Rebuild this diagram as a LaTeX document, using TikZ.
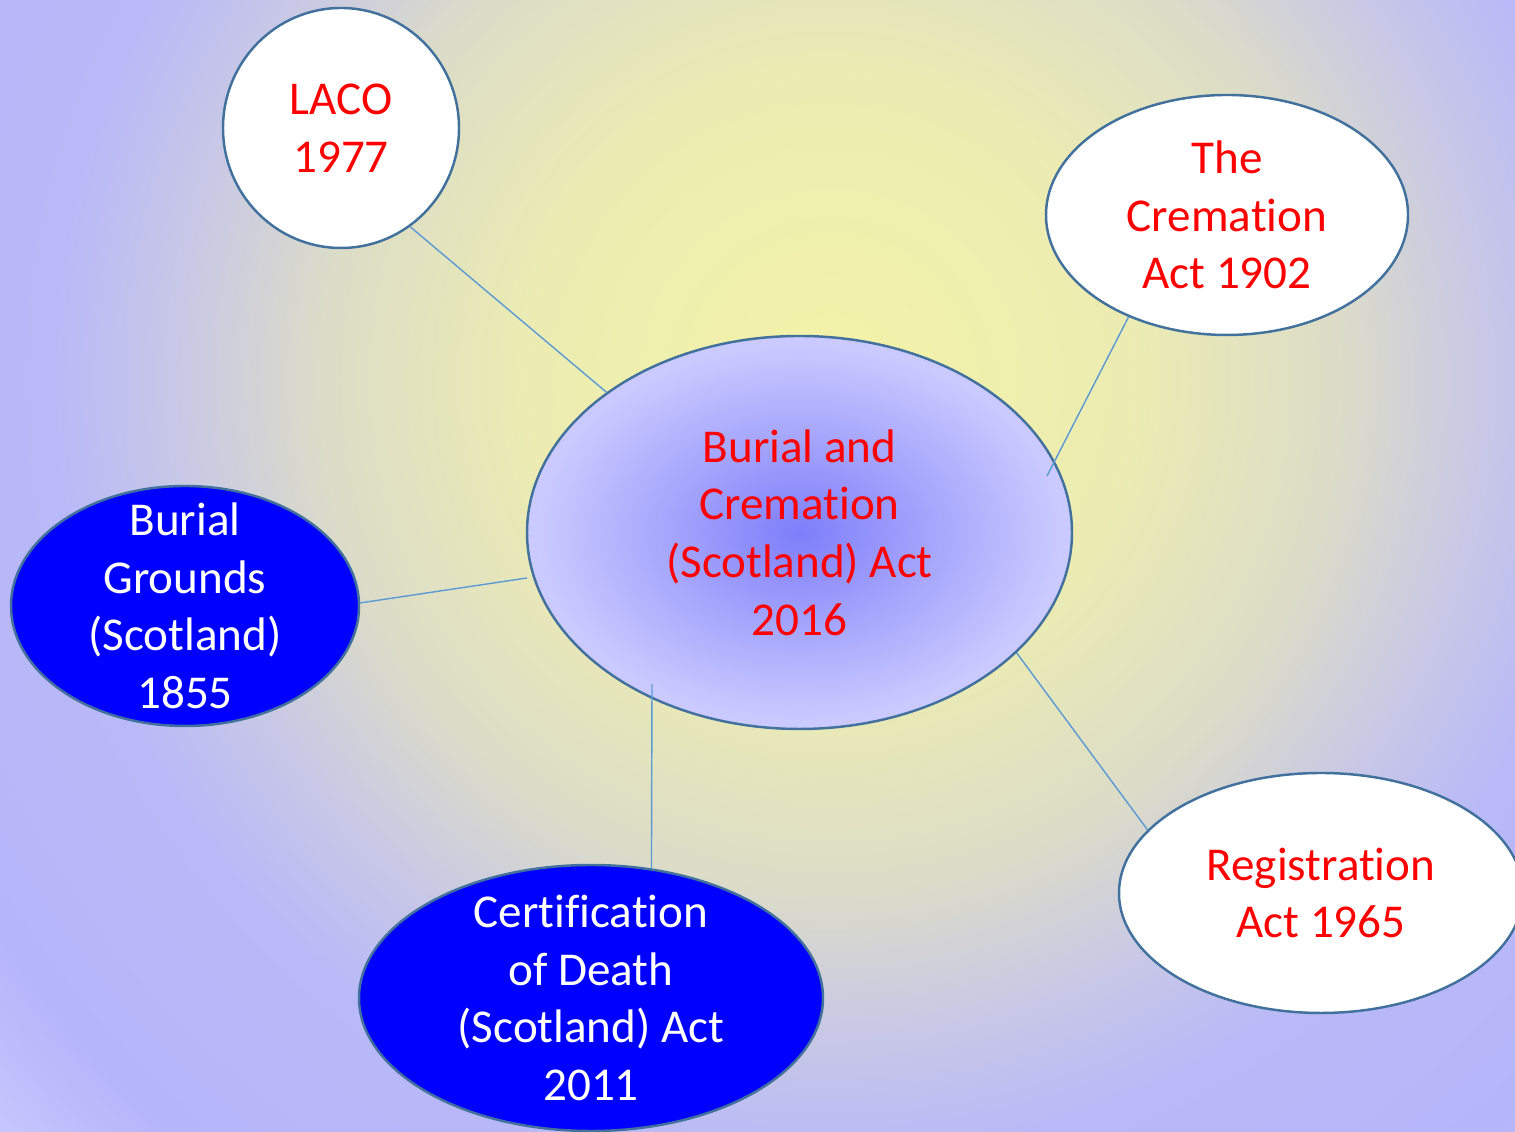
\documentclass[tikz,border=0pt]{standalone}
\usepackage{fontspec}
\setmainfont{Carlito}[Ligatures=NoCommon]
\usepackage{tikz}
\usetikzlibrary{shapes.geometric}

\definecolor{actred}{RGB}{255,0,0}
\definecolor{actblue}{RGB}{0,0,255}
\definecolor{rimblue}{RGB}{65,113,156}
\definecolor{linkblue}{RGB}{91,155,213}

% background glow, 25bp is the rim of the shaded path
\definecolor{bgA}{RGB}{243,243,168}
\definecolor{bgB}{RGB}{236,236,178}
\definecolor{bgC}{RGB}{220,220,200}
\definecolor{bgD}{RGB}{200,200,230}
\definecolor{bgE}{RGB}{185,185,248}
\definecolor{bgF}{RGB}{181,181,250}
\definecolor{bgG}{RGB}{202,202,255}
\pgfdeclareradialshading{bgglow}{\pgfpoint{0bp}{0bp}}{color(0bp)=(bgA); color(6.2bp)=(bgB); color(10.6bp)=(bgC); color(13.6bp)=(bgD); color(16.2bp)=(bgE); color(20.8bp)=(bgF); color(24bp)=(bgG); color(50bp)=(bgG)}

\definecolor{midA}{RGB}{126,126,250}
\definecolor{midB}{RGB}{165,165,252}
\definecolor{midC}{RGB}{202,202,255}
\pgfdeclareradialshading{centreglow}{\pgfpoint{0bp}{0bp}}{color(0bp)=(midA); color(12bp)=(midB); color(24bp)=(midC); color(50bp)=(midC)}

\begin{document}
\begin{tikzpicture}[
    act/.style={ellipse, draw=rimblue, line width=0.7pt, inner sep=0pt, align=center,
      font=\fontsize{13.4}{16.4}\selectfont},
    whiteact/.style={act, fill=white, text=actred},
    blueact/.style={act, fill=actblue, text=white, inner ysep=-0.2cm},
    link/.style={draw=linkblue, line width=0.4pt}]
	\useasboundingbox (0,0) rectangle (15.15,11.32);
	\clip (0,0) rectangle (15.15,11.32);

	% background glow
	\fill[shading=bgglow] (8.30,7.52) circle (12);

	\node[act, shading=centreglow, text=actred, minimum width=5.45cm, minimum height=3.93cm]
		(centre) at (7.995,5.995) {Burial and\\Cremation\\(Scotland) Act\\2016};

	\node[whiteact, minimum width=2.36cm, minimum height=2.40cm] (laco) at (3.41,10.04) {LACO\\1977};
	\node[whiteact, minimum width=3.62cm, minimum height=2.40cm] (cremation) at (12.27,9.17) {The\\Cremation\\Act 1902};
	\node[blueact, minimum width=3.48cm, minimum height=2.40cm] (grounds) at (1.85,5.26) {Burial\\Grounds\\(Scotland)\\1855};
	\node[blueact, minimum width=4.64cm, minimum height=2.66cm] (certif) at (5.91,1.34) {Certification\\of Death\\(Scotland) Act\\2011};
	\node[whiteact, minimum width=4.04cm, minimum height=2.40cm] (registration) at (13.21,2.39) {Registration\\Act 1965};

	\coordinate (ne end) at (10.47,6.56);
	\coordinate (w end) at (5.27,5.54);
	\coordinate (s end) at (6.52,4.48);

	\draw[link] (laco.-55) -- (centre.144);
	\draw[link] (cremation.226.7) -- (ne end);
	\draw[link] (grounds.1) -- (w end);
	\draw[link] (certif.65) -- (s end);
	\draw[link] (registration.160.8) -- (centre.-29.8);
\end{tikzpicture}
\end{document}
